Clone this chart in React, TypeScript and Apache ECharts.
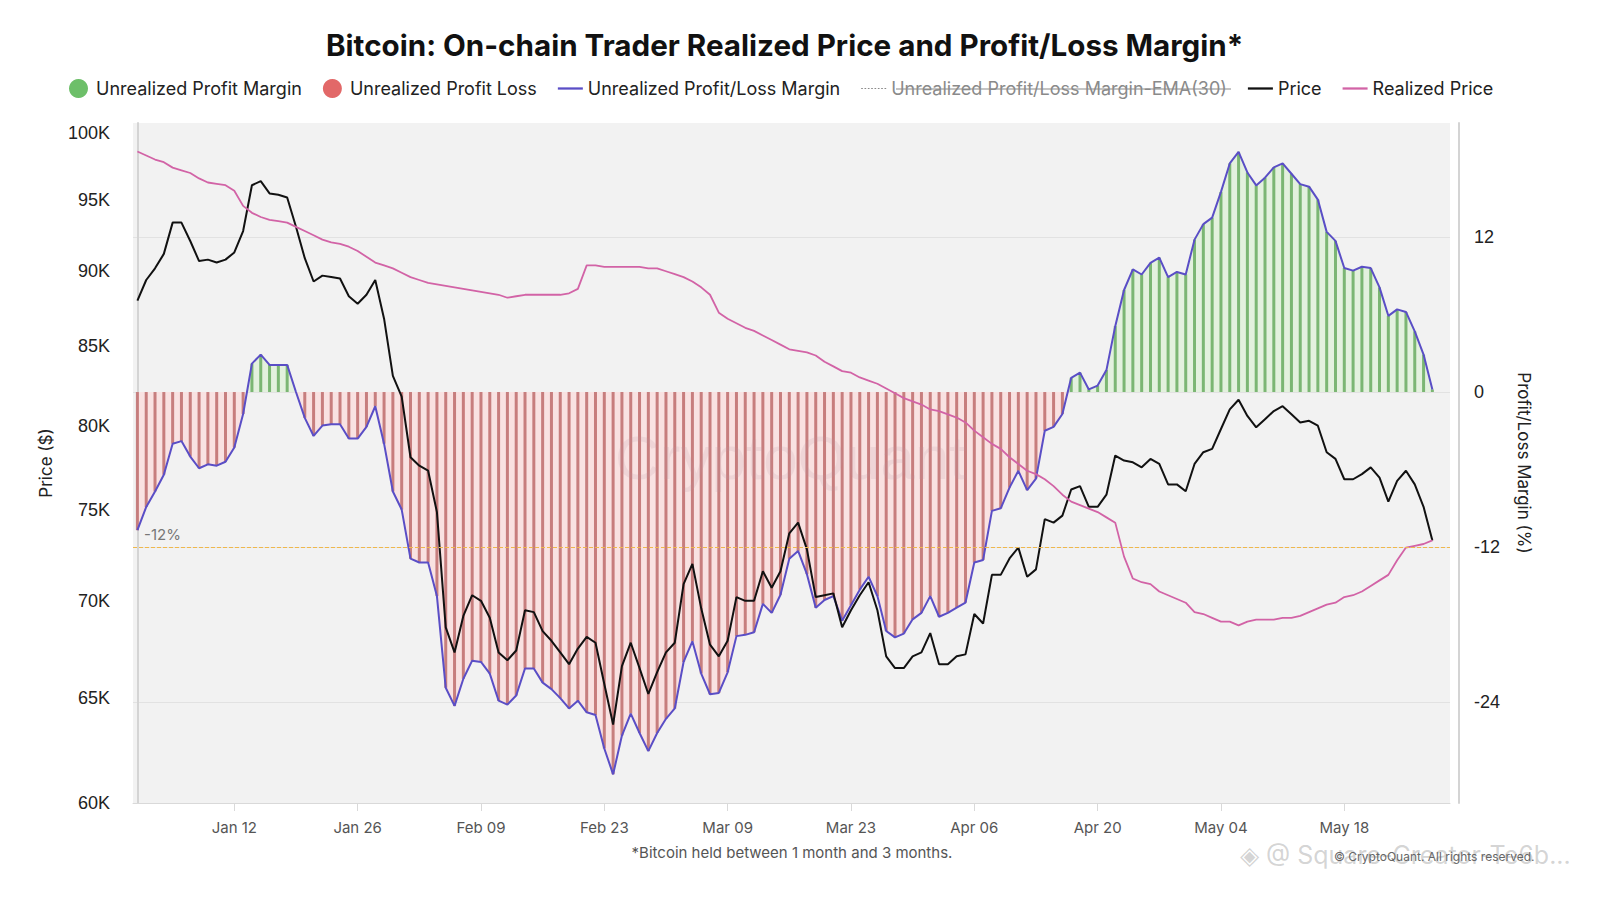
import React, { useEffect, useRef } from "react";
import * as echarts from "echarts";

// Daily values, Jan 01 .. May 28 (148 days)
const priceK = [
  88.0, 89.4, 90.2, 91.2, 93.4, 93.4, 92.1, 90.7, 90.8, 90.6,
  90.8, 91.3, 92.8, 96.1, 96.4, 95.5, 95.4, 95.2, 93.1, 90.9,
  89.3, 89.7, 89.6, 89.5, 88.3, 87.8, 88.4, 89.4, 86.8, 83.1,
  81.8, 78.1, 77.6, 77.3, 74.9, 68.6, 67.3, 69.2, 70.3, 70.0,
  69.1, 67.3, 66.9, 67.4, 69.5, 69.4, 68.4, 67.9, 67.3, 66.7,
  67.5, 68.1, 67.8, 65.7, 63.7, 66.6, 67.8, 66.5, 65.2, 66.3,
  67.3, 67.8, 70.9, 72.0, 69.6, 67.7, 67.1, 67.9, 70.2, 70.0,
  70.0, 71.6, 70.7, 71.6, 73.7, 74.3, 72.8, 70.2, 70.3, 70.4,
  68.6, 69.5, 70.3, 71.0, 69.5, 67.1, 66.5, 66.5, 67.1, 67.3,
  68.3, 66.7, 66.7, 67.1, 67.2, 69.3, 68.8, 71.4, 71.4, 72.3,
  72.9, 71.3, 71.7, 74.5, 74.3, 74.7, 76.2, 76.4, 75.2, 75.2,
  75.9, 78.2, 77.9, 77.8, 77.5, 78.0, 77.7, 76.5, 76.5, 76.1,
  77.7, 78.4, 78.6, 79.8, 81.0, 81.6, 80.6, 79.9, 80.4, 80.9,
  81.2, 80.7, 80.2, 80.3, 80.0, 78.4, 78.0, 76.8, 76.8, 77.1,
  77.5, 76.9, 75.5, 76.7, 77.3, 76.5, 75.2, 73.3,
];

const realizedK = [
  98.6, 98.3, 98.0, 97.8, 97.4, 97.2, 97.0, 96.6, 96.3, 96.2,
  96.1, 95.7, 94.6, 94.1, 93.8, 93.6, 93.5, 93.4, 93.1, 92.8,
  92.5, 92.2, 92.0, 91.9, 91.7, 91.4, 91.0, 90.6, 90.4, 90.2,
  89.9, 89.6, 89.4, 89.2, 89.1, 89.0, 88.9, 88.8, 88.7, 88.6,
  88.5, 88.4, 88.2, 88.3, 88.4, 88.4, 88.4, 88.4, 88.4, 88.5,
  88.8, 90.4, 90.4, 90.3, 90.3, 90.3, 90.3, 90.3, 90.2, 90.2,
  90.0, 89.8, 89.6, 89.3, 88.9, 88.4, 87.2, 86.8, 86.5, 86.2,
  86.0, 85.7, 85.4, 85.1, 84.8, 84.7, 84.6, 84.4, 84.0, 83.7,
  83.4, 83.3, 83.0, 82.8, 82.6, 82.3, 82.0, 81.7, 81.5, 81.3,
  81.0, 80.9, 80.7, 80.5, 80.2, 79.7, 79.3, 78.9, 78.6, 78.1,
  77.7, 77.3, 77.1, 76.8, 76.4, 75.9, 75.5, 75.3, 75.1, 74.9,
  74.6, 74.3, 72.4, 71.2, 71.0, 70.9, 70.5, 70.3, 70.1, 69.9,
  69.4, 69.3, 69.1, 68.9, 68.9, 68.7, 68.9, 69.0, 69.0, 69.0,
  69.1, 69.1, 69.2, 69.4, 69.6, 69.8, 69.9, 70.2, 70.3, 70.5,
  70.8, 71.1, 71.4, 72.2, 72.9, 73.0, 73.1, 73.3,
];

const marginPct = [
  -10.7, -8.9, -7.7, -6.4, -4.0, -3.8, -5.0, -5.9, -5.6, -5.7,
  -5.4, -4.3, -1.7, 2.2, 2.9, 2.1, 2.1, 2.1, 0.0, -2.0,
  -3.4, -2.6, -2.5, -2.5, -3.6, -3.6, -2.7, -1.1, -4.0, -7.7,
  -9.1, -12.9, -13.2, -13.2, -15.8, -22.9, -24.3, -22.2, -20.8, -20.9,
  -21.8, -23.9, -24.2, -23.5, -21.4, -21.4, -22.5, -23.0, -23.7, -24.5,
  -23.9, -24.8, -25.0, -27.6, -29.6, -26.6, -24.9, -26.4, -27.8, -26.4,
  -25.3, -24.5, -20.9, -19.3, -21.8, -23.4, -23.3, -21.7, -18.9, -18.8,
  -18.6, -16.4, -17.1, -15.7, -12.9, -12.3, -14.1, -16.7, -16.1, -15.8,
  -17.7, -16.5, -15.3, -14.3, -15.8, -18.5, -19.0, -18.7, -17.6, -17.1,
  -15.8, -17.4, -17.1, -16.7, -16.3, -13.2, -13.0, -9.2, -9.0, -7.4,
  -6.1, -7.6, -6.7, -3.0, -2.7, -1.7, 1.1, 1.5, 0.2, 0.5,
  1.7, 5.1, 7.9, 9.5, 9.1, 10.0, 10.4, 8.9, 9.3, 9.1,
  11.8, 13.0, 13.5, 15.5, 17.7, 18.6, 17.0, 16.0, 16.6, 17.4,
  17.7, 16.9, 16.1, 15.9, 14.9, 12.4, 11.7, 9.6, 9.4, 9.7,
  9.6, 8.1, 5.9, 6.4, 6.2, 4.7, 2.9, 0.2,
];

// x-axis tick positions (day index from Jan 01) and their labels
const tickDays = [11, 25, 39, 53, 67, 81, 95, 109, 123, 137];
const tickLabels = ["Jan 12", "Jan 26", "Feb 09", "Feb 23", "Mar 09", "Mar 23", "Apr 06", "Apr 20", "May 04", "May 18"];
const priceTicks = [60, 65, 70, 75, 80, 85, 90, 95, 100];
const marginTicks = [-24, -12, 0, 12];
const thresholdPct = -12;

const S_PROFIT = "Unrealized Profit Margin";
const S_LOSS = "Unrealized Profit Loss";
const S_MARGIN = "Unrealized Profit/Loss Margin";
const S_EMA = "Unrealized Profit/Loss Margin-EMA(30)";
const S_PRICE = "Price";
const S_REAL = "Realized Price";

const LINE_ICON = "path://M0,0H22V2H0Z";
const DOT_ICON =
  "path://M0,0H1.5V1H0Z M3,0H4.5V1H3Z M6,0H7.5V1H6Z M9,0H10.5V1H9Z M12,0H13.5V1H12Z M15,0H16.5V1H15Z M18,0H19.5V1H18Z M21,0H22.5V1H21Z";

export default function App() {
  const ref = useRef<HTMLDivElement>(null);
  useEffect(() => {
    document.body.style.margin = "0";
    const chart = echarts.init(ref.current as HTMLDivElement, undefined, { renderer: "svg" });
    const mMax = Math.max(...marginPct);
    const mMin = Math.min(...marginPct);
    const z0 = mMax / (mMax - mMin);
    const areaColor = new echarts.graphic.LinearGradient(0, 0, 0, 1, [
      { offset: 0, color: "#e3f1de" },
      { offset: z0, color: "#e3f1de" },
      { offset: z0, color: "#f9e2e2" },
      { offset: 1, color: "#f9e2e2" },
    ]);
    const axisFont = "'Liberation Sans', Arial, sans-serif";
    chart.setOption({
      animation: false,
      backgroundColor: "#ffffff",
      textStyle: { fontFamily: "Inter, 'Noto Sans', sans-serif" },
      title: {
        text: "Bitcoin: On-chain Trader Realized Price and Profit/Loss Margin*",
        left: 321,
        top: 25,
        textStyle: { fontSize: 29.6, fontWeight: "bold", color: "#111111", fontFamily: "Inter, sans-serif" },
      },
      legend: {
        top: 74,
        left: 64,
        itemGap: 21,
        itemWidth: 25,
        itemHeight: 19,
        inactiveColor: "#8a8a8a",
        textStyle: { fontSize: 18, color: "#222222", fontFamily: "Inter, sans-serif" },
        selected: { [S_EMA]: false },
        data: [
          { name: S_PROFIT, icon: "circle", itemStyle: { color: "#6dbf69" } },
          { name: S_LOSS, icon: "circle", itemStyle: { color: "#e26868" } },
          { name: S_MARGIN, icon: LINE_ICON, itemStyle: { color: "#5a4ec6" } },
          { name: S_EMA, icon: DOT_ICON },
          { name: S_PRICE, icon: LINE_ICON, itemStyle: { color: "#111111" } },
          { name: S_REAL, icon: LINE_ICON, itemStyle: { color: "#d263a6" } },
        ],
      },
      grid: {
        left: 133,
        top: 123,
        width: 1317,
        height: 680,
        show: true,
        backgroundColor: "#f2f2f2",
        borderWidth: 0,
      },
      xAxis: {
        type: "value",
        min: -0.5,
        max: 149,
        axisLine: { show: true, onZero: false, lineStyle: { color: "#d9d9d9", width: 1 } },
        axisTick: { show: true, customValues: tickDays, length: 8, lineStyle: { color: "#d9d9d9" } },
        axisLabel: {
          customValues: tickDays,
          formatter: (v: number) => {
            const k = tickDays.indexOf(Math.round(v));
            return k >= 0 ? tickLabels[k] : "";
          },
          color: "#555555",
          fontSize: 15,
          margin: 17,
        },
        splitLine: { show: false },
      },
      yAxis: [
        {
          type: "log",
          logBase: 10,
          min: 60,
          max: 100.77,
          position: "left",
          offset: 7,
          axisLine: { show: true, lineStyle: { color: "#d4d4d4", width: 2 } },
          axisTick: { show: false },
          splitLine: { show: false },
          axisLabel: {
            customValues: priceTicks,
            formatter: (v: number) => Math.round(v) + "K",
            fontSize: 18,
            color: "#222222",
            margin: 16,
            fontFamily: axisFont,
          },
          name: "Price ($)",
          nameLocation: "middle",
          nameGap: 72,
          nameRotate: 90,
          nameTextStyle: { fontSize: 17, color: "#222222", fontFamily: "Inter, sans-serif" },
        },
        {
          type: "value",
          min: -31.82,
          max: 20.83,
          position: "right",
          offset: 9,
          axisLine: { show: true, lineStyle: { color: "#d4d4d4", width: 2 } },
          axisTick: { show: false, customValues: marginTicks },
          splitLine: { show: true, lineStyle: { color: "#e2e2e2", width: 1 } },
          axisLabel: {
            customValues: marginTicks,
            fontSize: 18,
            color: "#222222",
            margin: 15,
            fontFamily: axisFont,
          },
          name: "Profit/Loss Margin (%)",
          nameLocation: "middle",
          nameGap: 56,
          nameRotate: -90,
          nameTextStyle: { fontSize: 17, color: "#222222", fontFamily: "Inter, sans-serif" },
        },
      ],
      graphic: [
        {
          type: "text",
          left: 615,
          top: 426,
          z: 10,
          silent: true,
          style: {
            text: "CryptoQuant",
            fontSize: 62,
            fontFamily: "'Liberation Sans', Arial, sans-serif",
            fill: "rgba(185, 150, 160, 0.16)",
          },
        },
        {
          type: "text",
          x: 792,
          y: 852,
          style: {
            text: "*Bitcoin held between 1 month and 3 months.",
            fontSize: 15,
            fill: "#555555",
            fontFamily: "Inter, sans-serif",
            textAlign: "center",
            textVerticalAlign: "middle",
          },
        },
        {
          type: "text",
          left: 1240,
          top: 842,
          z: 10,
          silent: true,
          style: {
            text: "◈ @ Square-Creator-Te6b...",
            fontSize: 25,
            fill: "rgba(160,160,160,0.45)",
            fontFamily: "Inter, sans-serif",
          },
        },
        {
          type: "text",
          left: 1334,
          top: 850,
          z: 11,
          style: {
            text: "© CryptoQuant. All rights reserved.",
            fontSize: 12,
            fill: "#666666",
            fontFamily: "Inter, sans-serif",
          },
        },
        {
          type: "line",
          z: 20,
          silent: true,
          shape: { x1: 896, y1: 89, x2: 1231, y2: 89 },
          style: { stroke: "#8a8a8a", lineWidth: 1.2 },
        },
      ],
      series: [
        {
          name: "margin-area",
          type: "line",
          yAxisIndex: 1,
          data: marginPct.map((v, i) => [i, v]),
          symbol: "none",
          silent: true,
          lineStyle: { width: 0, opacity: 0 },
          areaStyle: { color: areaColor, opacity: 1 },
          z: 1,
        },
        {
          name: S_PROFIT,
          type: "bar",
          yAxisIndex: 1,
          barWidth: 3,
          barGap: "-100%",
          data: marginPct.map((v, i) => [i, v > 0 ? v : "-"]),
          itemStyle: { color: "rgba(104, 172, 96, 0.85)" },
          z: 2,
        },
        {
          name: S_LOSS,
          type: "bar",
          yAxisIndex: 1,
          barWidth: 3,
          barGap: "-100%",
          data: marginPct.map((v, i) => [i, v < 0 ? v : "-"]),
          itemStyle: { color: "rgba(190, 108, 108, 0.85)" },
          z: 2,
        },
        {
          name: S_MARGIN,
          type: "line",
          yAxisIndex: 1,
          data: marginPct.map((v, i) => [i, v]),
          symbol: "none",
          lineStyle: { color: "#5a4ec6", width: 2 },
          itemStyle: { color: "#5a4ec6" },
          z: 3,
          markLine: {
            silent: true,
            symbol: "none",
            data: [{ yAxis: thresholdPct }],
            lineStyle: { type: "dashed", color: "#efb84c", width: 1 },
            label: {
              show: true,
              position: "insideStartTop",
              formatter: thresholdPct + "%",
              color: "#777777",
              fontSize: 15,
              padding: [0, 0, 0, 6],
            },
          },
        },
        {
          name: S_EMA,
          type: "line",
          yAxisIndex: 1,
          data: [],
          symbol: "none",
          lineStyle: { color: "#b5b5b5", width: 1, type: "dotted" },
          itemStyle: { color: "#b5b5b5" },
        },
        {
          name: S_PRICE,
          type: "line",
          yAxisIndex: 0,
          data: priceK.map((v, i) => [i, v]),
          symbol: "none",
          lineStyle: { color: "#111111", width: 2 },
          itemStyle: { color: "#111111" },
          z: 4,
        },
        {
          name: S_REAL,
          type: "line",
          yAxisIndex: 0,
          data: realizedK.map((v, i) => [i, v]),
          symbol: "none",
          lineStyle: { color: "#d263a6", width: 1.8 },
          itemStyle: { color: "#d263a6" },
          z: 4,
        },
      ],
    });
    return () => chart.dispose();
  }, []);
  return <div ref={ref} style={{ width: 1600, height: 900 }} />;
}
